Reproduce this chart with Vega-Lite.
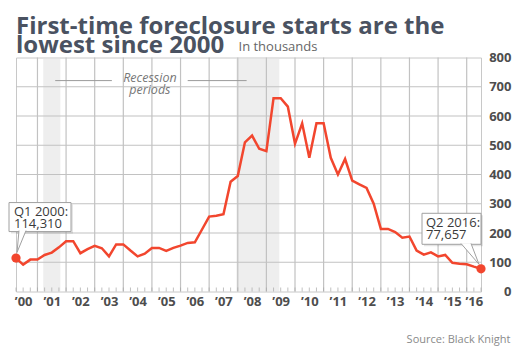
{
  "$schema": "https://vega.github.io/schema/vega-lite/v6.json",
  "width": 465,
  "height": 234,
  "autosize": {"type": "none"},
  "padding": {"left": 16, "top": 57.5, "right": 39, "bottom": 68.5},
  "background": "white",
  "title": {
    "text": ["First-time foreclosure starts are the", "lowest since 2000"],
    "anchor": "start",
    "frame": "group",
    "font": "Open Sans",
    "fontSize": 24,
    "fontWeight": "bold",
    "color": "#4a5261",
    "lineHeight": 19,
    "offset": -18
  },
  "config": {
    "font": "Open Sans",
    "view": {"stroke": "#c8c8c8"}
  },
  "datasets": {
    "series": [
      {"q": 2000.25, "v": 114.31}, {"q": 2000.5, "v": 92}, {"q": 2000.75, "v": 109}, {"q": 2001, "v": 109},
      {"q": 2001.25, "v": 125}, {"q": 2001.5, "v": 133}, {"q": 2001.75, "v": 151}, {"q": 2002, "v": 172},
      {"q": 2002.25, "v": 172}, {"q": 2002.5, "v": 131}, {"q": 2002.75, "v": 145}, {"q": 2003, "v": 156},
      {"q": 2003.25, "v": 148}, {"q": 2003.5, "v": 120}, {"q": 2003.75, "v": 161}, {"q": 2004, "v": 161},
      {"q": 2004.25, "v": 140}, {"q": 2004.5, "v": 120}, {"q": 2004.75, "v": 129}, {"q": 2005, "v": 149},
      {"q": 2005.25, "v": 149}, {"q": 2005.5, "v": 139}, {"q": 2005.75, "v": 149}, {"q": 2006, "v": 157},
      {"q": 2006.25, "v": 166}, {"q": 2006.5, "v": 168}, {"q": 2006.75, "v": 212}, {"q": 2007, "v": 256},
      {"q": 2007.25, "v": 259}, {"q": 2007.5, "v": 264}, {"q": 2007.75, "v": 375}, {"q": 2008, "v": 395},
      {"q": 2008.25, "v": 510}, {"q": 2008.5, "v": 533}, {"q": 2008.75, "v": 488}, {"q": 2009, "v": 480},
      {"q": 2009.25, "v": 661}, {"q": 2009.5, "v": 661}, {"q": 2009.75, "v": 632}, {"q": 2010, "v": 505},
      {"q": 2010.25, "v": 575}, {"q": 2010.5, "v": 457}, {"q": 2010.75, "v": 575}, {"q": 2011, "v": 575},
      {"q": 2011.25, "v": 457}, {"q": 2011.5, "v": 400}, {"q": 2011.75, "v": 453}, {"q": 2012, "v": 379},
      {"q": 2012.25, "v": 366}, {"q": 2012.5, "v": 354}, {"q": 2012.75, "v": 300}, {"q": 2013, "v": 214},
      {"q": 2013.25, "v": 214}, {"q": 2013.5, "v": 203}, {"q": 2013.75, "v": 184}, {"q": 2014, "v": 188},
      {"q": 2014.25, "v": 140}, {"q": 2014.5, "v": 126}, {"q": 2014.75, "v": 134}, {"q": 2015, "v": 120},
      {"q": 2015.25, "v": 125}, {"q": 2015.5, "v": 98}, {"q": 2015.75, "v": 95}, {"q": 2016, "v": 93},
      {"q": 2016.25, "v": 85}, {"q": 2016.5, "v": 77.657}
    ],
    "recessions": [
      {"start": 2001.2, "end": 2001.8},
      {"start": 2007.95, "end": 2009.45}
    ],
    "yearLines": [
      {"year": 2001}, {"year": 2002}, {"year": 2003}, {"year": 2004}, {"year": 2005}, {"year": 2006},
      {"year": 2007}, {"year": 2008}, {"year": 2009}, {"year": 2010}, {"year": 2011}, {"year": 2012},
      {"year": 2013}, {"year": 2014}, {"year": 2015}, {"year": 2016}
    ],
    "levelLines": [
      {"level": 100}, {"level": 200}, {"level": 300}, {"level": 400}, {"level": 500}, {"level": 600}, {"level": 700}
    ],
    "notes": [
      {"q": 2000.25, "v": 114.31, "label": "Q1 2000:|114,310"},
      {"q": 2016.5, "v": 77.657, "label": "Q2 2016:|77,657"}
    ],
    "recessionGuides": [
      {"from": 2001.62, "to": 2003.6, "level": 721},
      {"from": 2006.25, "to": 2008.31, "level": 721}
    ],
    "recessionLabel": [
      {"at": 2004.93, "level": 715, "text": "Recession|periods"}
    ]
  },
  "layer": [
    {
      "data": {"name": "recessions"},
      "mark": {"type": "rect", "color": "#e3e3e3", "opacity": 0.6},
      "encoding": {
        "x": {
          "field": "start",
          "type": "quantitative",
          "scale": {"domain": [2000.25, 2016.5], "nice": false, "zero": false},
          "axis": {
            "values": [2000.5, 2001.5, 2002.5, 2003.5, 2004.5, 2005.5, 2006.5, 2007.5, 2008.5, 2009.5, 2010.5, 2011.5, 2012.5, 2013.5, 2014.5, 2015.5, 2016.25],
            "tickCount": 17,
            "labelExpr": "'’' + substring(toString(floor(datum.value)), 2)",
            "labelFont": "Open Sans",
            "labelFontSize": 13,
            "labelFontWeight": "bold",
            "labelColor": "#4d4d4d",
            "labelPadding": 4,
            "labelOverlap": false,
            "labelSeparation": -14,
            "labelBound": false,
            "labelFlush": false,
            "ticks": false,
            "domain": false,
            "grid": false,
            "title": "Source: Black Knight",
            "titleFont": "Open Sans",
            "titleFontSize": 11,
            "titleFontWeight": "normal",
            "titleColor": "#8a8a8a",
            "titleX": 494,
            "titleY": 51,
            "titleAlign": "right",
            "titleBaseline": "alphabetic"
          }
        },
        "x2": {"field": "end"},
        "y": {
          "datum": 0,
          "type": "quantitative",
          "scale": {"domain": [0, 800], "nice": false},
          "axis": {
            "orient": "right",
            "values": [0, 100, 200, 300, 400, 500, 600, 700, 800],
            "tickCount": 9,
            "labelAlign": "right",
            "labelBaseline": "middle",
            "labelPadding": 30,
            "labelFont": "Open Sans",
            "labelFontSize": 13,
            "labelFontWeight": "bold",
            "labelColor": "#4d4d4d",
            "labelOverlap": false,
            "labelSeparation": -14,
            "labelFlush": false,
            "labelBound": false,
            "ticks": false,
            "domain": false,
            "grid": false,
            "title": "In thousands",
            "titleAngle": 0,
            "titleX": -243,
            "titleY": -7.5,
            "titleAlign": "left",
            "titleBaseline": "alphabetic",
            "titleFont": "Open Sans",
            "titleFontSize": 13,
            "titleFontWeight": "normal",
            "titleColor": "#666666"
          }
        },
        "y2": {"datum": 800}
      }
    },
    {
      "data": {"name": "yearLines"},
      "mark": {"type": "rule", "color": "#c2c2c2", "strokeWidth": 1.2},
      "encoding": {
        "x": {"field": "year", "type": "quantitative"},
        "y": {"datum": 0, "type": "quantitative"},
        "y2": {"datum": 800}
      }
    },
    {
      "data": {"name": "levelLines"},
      "mark": {"type": "rule", "color": "#c2c2c2", "strokeWidth": 1.2},
      "encoding": {
        "y": {"field": "level", "type": "quantitative"},
        "x": {"datum": 2000.25, "type": "quantitative"},
        "x2": {"datum": 2016.5}
      }
    },
    {
      "data": {"name": "series"},
      "mark": {"type": "point", "shape": "M0,0L0,-1", "size": 64, "filled": false, "color": "#a8a8a8", "strokeWidth": 1},
      "encoding": {
        "x": {"field": "q", "type": "quantitative"},
        "y": {"datum": 0, "type": "quantitative"}
      }
    },
    {
      "data": {"name": "recessionGuides"},
      "mark": {"type": "rule", "color": "#9a9a9a", "strokeWidth": 1},
      "encoding": {
        "x": {"field": "from", "type": "quantitative"},
        "x2": {"field": "to"},
        "y": {"field": "level", "type": "quantitative"}
      }
    },
    {
      "data": {"name": "recessionLabel"},
      "mark": {
        "type": "text",
        "lineBreak": "|",
        "font": "Open Sans",
        "fontStyle": "italic",
        "fontSize": 12.5,
        "color": "#777777",
        "align": "center",
        "baseline": "alphabetic",
        "lineHeight": 11.5
      },
      "encoding": {
        "x": {"field": "at", "type": "quantitative"},
        "y": {"field": "level", "type": "quantitative"},
        "text": {"field": "text"}
      }
    },
    {
      "data": {"name": "series"},
      "mark": {"type": "line", "color": "#f2462e", "strokeWidth": 2.5, "strokeJoin": "miter"},
      "encoding": {
        "x": {"field": "q", "type": "quantitative"},
        "y": {"field": "v", "type": "quantitative"}
      }
    },
    {
      "data": {"name": "notes"},
      "transform": [{"filter": "datum.q < 2001"}],
      "layer": [
        {
          "mark": {"type": "rect", "width": 62, "height": 29, "xOffset": 26, "yOffset": -39, "color": "#000000", "opacity": 0.1},
          "encoding": {
            "x": {"field": "q", "type": "quantitative"},
            "y": {"field": "v", "type": "quantitative"}
          }
        },
        {
          "mark": {"type": "rect", "width": 62, "height": 29, "xOffset": 24, "yOffset": -41, "fill": "white", "stroke": "#a0a0a0", "strokeWidth": 1},
          "encoding": {
            "x": {"field": "q", "type": "quantitative"},
            "y": {"field": "v", "type": "quantitative"}
          }
        },
        {
          "mark": {"type": "point", "shape": "M0.107,-0.982L0.036,-0.2L0.357,-0.982", "size": 3136, "filled": true, "fill": "white", "stroke": "#a0a0a0", "strokeWidth": 1, "opacity": 1},
          "encoding": {
            "x": {"field": "q", "type": "quantitative"},
            "y": {"field": "v", "type": "quantitative"}
          }
        },
        {
          "mark": {"type": "text", "lineBreak": "|", "align": "left", "baseline": "alphabetic", "dx": -2, "dy": -42.5, "font": "Open Sans", "fontSize": 13, "lineHeight": 12.5, "color": "#3a3a3a"},
          "encoding": {
            "x": {"field": "q", "type": "quantitative"},
            "y": {"field": "v", "type": "quantitative"},
            "text": {"field": "label"}
          }
        }
      ]
    },
    {
      "data": {"name": "notes"},
      "transform": [{"filter": "datum.q > 2016"}],
      "layer": [
        {
          "mark": {"type": "rect", "width": 59, "height": 31, "xOffset": -27.5, "yOffset": -38, "color": "#000000", "opacity": 0.1},
          "encoding": {
            "x": {"field": "q", "type": "quantitative"},
            "y": {"field": "v", "type": "quantitative"}
          }
        },
        {
          "mark": {"type": "rect", "width": 59, "height": 31, "xOffset": -29.5, "yOffset": -40, "fill": "white", "stroke": "#a0a0a0", "strokeWidth": 1},
          "encoding": {
            "x": {"field": "q", "type": "quantitative"},
            "y": {"field": "v", "type": "quantitative"}
          }
        },
        {
          "mark": {"type": "point", "shape": "M-0.714,-0.904L-0.071,-0.16L-0.357,-0.904", "size": 3136, "filled": true, "fill": "white", "stroke": "#a0a0a0", "strokeWidth": 1, "opacity": 1},
          "encoding": {
            "x": {"field": "q", "type": "quantitative"},
            "y": {"field": "v", "type": "quantitative"}
          }
        },
        {
          "mark": {"type": "text", "lineBreak": "|", "align": "left", "baseline": "alphabetic", "dx": -55, "dy": -42, "font": "Open Sans", "fontSize": 13, "lineHeight": 12.5, "color": "#3a3a3a"},
          "encoding": {
            "x": {"field": "q", "type": "quantitative"},
            "y": {"field": "v", "type": "quantitative"},
            "text": {"field": "label"}
          }
        }
      ]
    },
    {
      "data": {"name": "notes"},
      "mark": {"type": "point", "filled": true, "size": 85, "color": "#f2462e", "opacity": 1},
      "encoding": {
        "x": {"field": "q", "type": "quantitative"},
        "y": {"field": "v", "type": "quantitative"}
      }
    }
  ]
}
